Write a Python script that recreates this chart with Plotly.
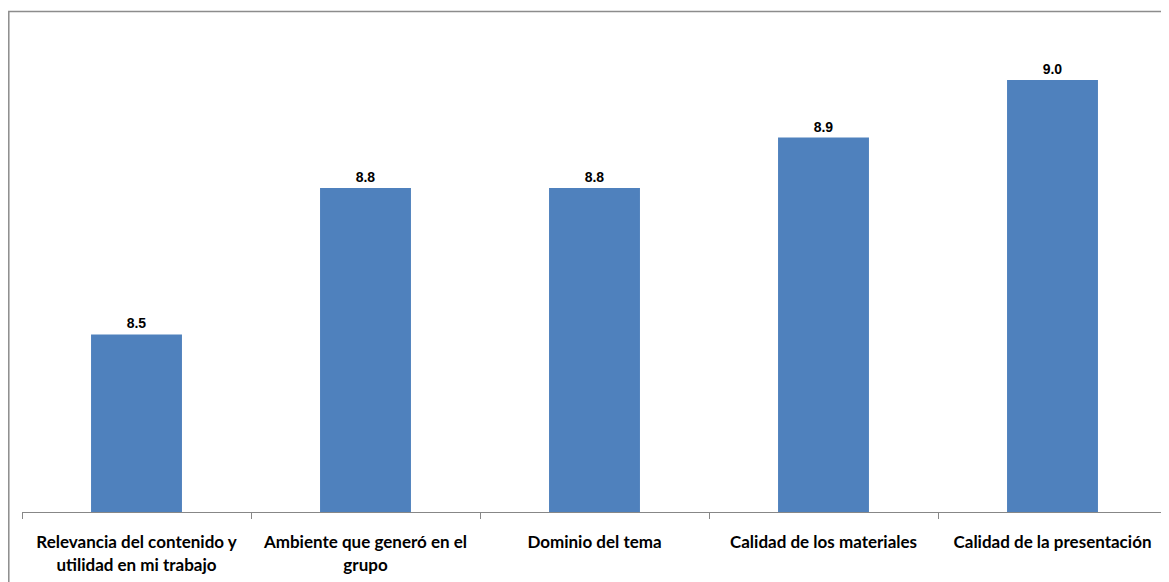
import plotly.graph_objects as go

categories = [
    "Relevancia del contenido y<br>utilidad en mi trabajo",
    "Ambiente que generó en el<br>grupo",
    "Dominio del tema",
    "Calidad de los materiales",
    "Calidad de la presentación",
]
values = [8.47, 8.775, 8.775, 8.88, 9.0]

OFF = 8  # default page body margin
W, H = 1169 - OFF, 582 - OFF
L, R, T, B = 22 - OFF, 2, 32 - OFF, 70
pw = W - L - R
ph = H - T - B

fig = go.Figure()
fig.add_trace(go.Bar(
    x=categories, y=values,
    marker=dict(color="#4F81BD", line=dict(width=0)),
    text=values, texttemplate="%{y:.1f}", textposition="outside",
    textfont=dict(family="Liberation Sans", size=14, color="black", weight="bold"),
    cliponaxis=False, width=0.397,
))

def px_x(px):
    return (px - OFF - L) / pw

def px_y(py):
    return (H - B - (py - OFF)) / ph

fig.update_layout(
    width=W, height=H,
    margin=dict(l=L, r=R, t=T, b=B),
    paper_bgcolor="white", plot_bgcolor="white",
    showlegend=False,
    xaxis=dict(
        showline=True, linecolor="#878787", linewidth=1,
        ticks="outside", tickson="boundaries", ticklen=6, tickcolor="#878787",
        tickfont=dict(family="Lato", size=17, color="black", weight="bold"),
        ticklabelstandoff=15,
        showgrid=False,
    ),
    yaxis=dict(range=[8.1, 9.1], visible=False, showgrid=False),
    shapes=[dict(type="rect", xref="paper", yref="paper",
                 x0=px_x(8.8), x1=px_x(1180), y0=px_y(11.5), y1=px_y(600),
                 line=dict(color="#8C8C8C", width=1.5), fillcolor="rgba(0,0,0,0)")],
)

fig.write_html("out.html")
